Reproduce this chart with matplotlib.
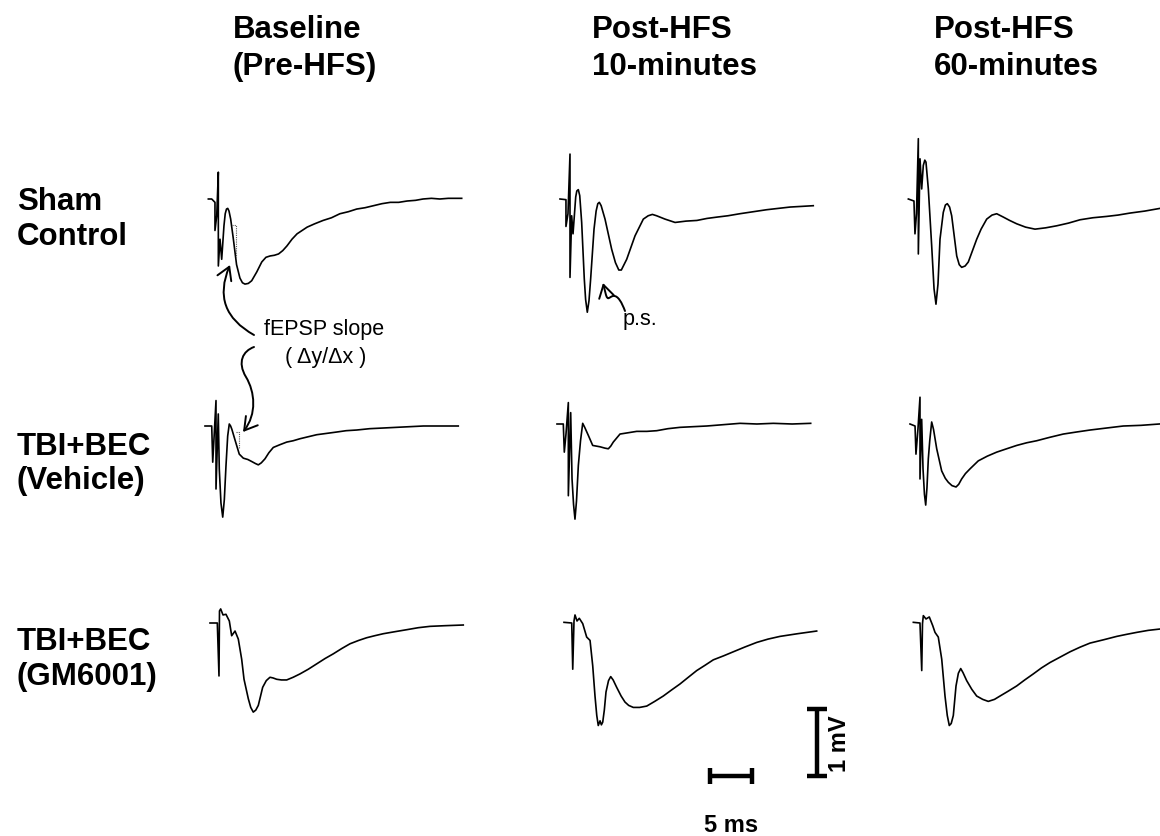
import numpy as np
import matplotlib.pyplot as plt
from matplotlib.path import Path
from matplotlib.patches import FancyArrowPatch

plt.rcParams['font.family'] = ['Liberation Sans', 'DejaVu Sans']

# trace samples: time (ms) after sweep start, amplitude (mV) re. baseline
sham_base_t = [0.04, 0.44, 0.83, 0.83, 1.04, 1.23, 1.23, 1.43, 1.63, 1.90, 2.05, 2.20, 2.35, 2.50,
               2.70, 3.00, 3.40, 3.80, 4.10, 4.40, 4.80, 5.20, 5.80, 6.40, 6.90, 7.40, 7.90, 8.40,
               8.90, 9.40, 10.00, 10.60, 11.20, 11.80, 12.70, 13.70, 14.70, 15.70, 16.70, 17.70,
               18.70, 19.70, 20.70, 21.70, 22.70, 23.70, 24.70, 25.60, 26.60, 27.60, 28.60, 30.20]
sham_base_v = [0.0, 0.0, -0.05, -0.47, -0.25, 0.40, -1.00, -0.60, -0.90, -0.40, -0.22, -0.15,
               -0.14, -0.18, -0.30, -0.58, -0.98, -1.18, -1.25, -1.27, -1.26, -1.22, -1.09, -0.94,
               -0.87, -0.85, -0.84, -0.82, -0.77, -0.70, -0.60, -0.52, -0.47, -0.42, -0.37, -0.32,
               -0.28, -0.22, -0.19, -0.15, -0.13, -0.10, -0.07, -0.05, -0.05, -0.03, -0.02, 0.0,
               0.01, 0.0, 0.01, 0.01]

sham_10_t = [0.0, 0.71, 0.71, 0.95, 1.19, 1.19, 1.39, 1.55, 1.87, 2.00, 2.18, 2.35, 2.58, 2.89,
             3.05, 3.25, 3.45, 3.65, 4.05, 4.30, 4.50, 4.68, 4.90, 5.36, 6.15, 6.60, 7.00, 7.30,
             7.94, 8.93, 9.92, 10.50, 11.00, 11.50, 12.50, 13.70, 15.00, 16.30, 17.50, 18.70,
             20.00, 21.40, 23.00, 24.60, 26.00, 27.40, 28.80, 30.15]
sham_10_v = [0.0, -0.01, -0.41, -0.22, 0.67, -1.17, -0.25, -0.52, 0.03, 0.12, 0.14, 0.05, -0.35,
             -1.19, -1.50, -1.69, -1.52, -1.19, -0.45, -0.18, -0.07, -0.05, -0.10, -0.30, -0.75,
             -0.95, -1.06, -1.06, -0.90, -0.55, -0.30, -0.25, -0.23, -0.25, -0.30, -0.35, -0.33,
             -0.32, -0.29, -0.27, -0.25, -0.22, -0.19, -0.16, -0.14, -0.12, -0.11, -0.10]

sham_60_t = [0.04, 0.71, 0.83, 1.01, 1.23, 1.23, 1.43, 1.63, 1.82, 2.00, 2.14, 2.42, 2.82, 3.10,
             3.33, 3.57, 3.81, 4.20, 4.45, 4.68, 4.95, 5.20, 5.80, 6.10, 6.39, 6.80, 7.18, 8.18,
             8.70, 9.37, 10.00, 10.56, 11.35, 12.10, 12.94, 14.00, 15.12, 16.40, 17.70, 19.10,
             20.48, 22.00, 23.65, 25.00, 26.43, 28.20, 30.00]
sham_60_v = [0.0, -0.03, -0.52, -0.22, 0.90, -0.82, 0.60, 0.15, 0.50, 0.58, 0.55, 0.15, -0.70,
             -1.34, -1.57, -1.27, -0.60, -0.20, -0.09, -0.07, -0.12, -0.25, -0.85, -0.98, -1.02,
             -1.00, -0.94, -0.60, -0.45, -0.30, -0.24, -0.22, -0.27, -0.32, -0.37, -0.42, -0.45,
             -0.43, -0.40, -0.36, -0.31, -0.28, -0.26, -0.24, -0.21, -0.18, -0.14]

veh_base_t = [0.0, 0.80, 0.92, 1.07, 1.31, 1.31, 1.58, 1.70, 1.90, 2.11, 2.30, 2.50, 2.70, 2.89,
              3.05, 3.20, 3.60, 4.08, 4.56, 5.10, 5.56, 6.00, 6.35, 6.70, 7.14, 7.60, 8.13, 8.90,
              9.73, 10.50, 11.31, 12.30, 13.30, 14.50, 15.68, 16.80, 18.06, 19.60, 21.23, 22.80,
              24.40, 26.00, 27.58, 30.15]
veh_base_v = [0.0, 0.0, -0.54, -0.19, 0.38, -0.94, 0.18, -0.64, -1.15, -1.36, -1.10, -0.59, -0.15,
              0.03, 0.0, -0.05, -0.22, -0.42, -0.48, -0.50, -0.53, -0.56, -0.58, -0.55, -0.49,
              -0.40, -0.32, -0.28, -0.24, -0.22, -0.19, -0.16, -0.13, -0.11, -0.09, -0.07, -0.06,
              -0.04, -0.03, -0.02, -0.01, 0.0, 0.0, 0.0]

veh_10_t = [0.0, 0.75, 0.87, 1.07, 1.35, 1.35, 1.63, 1.79, 1.97, 2.14, 2.32, 2.54, 2.80, 3.06,
            3.30, 3.73, 4.25, 5.12, 5.70, 6.11, 6.40, 6.70, 7.50, 8.50, 9.49, 10.70, 11.87, 13.20,
            14.64, 16.20, 17.82, 19.80, 21.79, 23.80, 25.75, 28.00, 30.20]
veh_10_v = [0.0, 0.0, -0.42, -0.15, 0.32, -1.07, 0.17, -0.82, -1.20, -1.42, -1.15, -0.62, -0.25,
            0.01, -0.05, -0.17, -0.32, -0.34, -0.36, -0.37, -0.33, -0.27, -0.15, -0.13, -0.11,
            -0.11, -0.10, -0.07, -0.05, -0.04, -0.03, -0.01, 0.01, 0.0, 0.01, 0.0, 0.01]

veh_60_t = [0.0, 0.60, 0.71, 0.95, 1.19, 1.19, 1.39, 1.55, 1.72, 1.87, 2.02, 2.18, 2.35, 2.58,
            2.80, 3.18, 3.77, 4.20, 4.56, 5.00, 5.48, 5.80, 6.15, 6.60, 7.14, 8.13, 9.20, 10.32,
            11.50, 12.70, 13.90, 15.08, 16.60, 18.25, 19.80, 21.43, 23.40, 25.39, 27.50, 29.68]
veh_60_v = [0.0, -0.03, -0.45, -0.07, 0.40, -0.82, 0.07, -0.67, -1.05, -1.21, -0.95, -0.52, -0.25,
            0.03, -0.08, -0.37, -0.70, -0.81, -0.87, -0.92, -0.94, -0.90, -0.82, -0.74, -0.67,
            -0.55, -0.48, -0.42, -0.37, -0.32, -0.28, -0.25, -0.20, -0.15, -0.12, -0.09, -0.06,
            -0.03, -0.02, 0.0]

gm_base_t = [0.0, 0.87, 1.07, 1.13, 1.27, 1.55, 1.90, 2.30, 2.58, 2.98, 3.37, 3.77, 4.05, 4.56,
             4.85, 5.15, 5.45, 5.75, 6.00, 6.27, 6.70, 7.14, 7.50, 7.94, 8.50, 9.13, 9.90, 10.71,
             11.70, 12.70, 13.70, 14.68, 15.70, 16.67, 17.70, 18.65, 19.60, 20.63, 22.00, 23.42,
             24.80, 26.19, 28.00, 30.15]
gm_base_v = [0.0, 0.0, -0.79, 0.18, 0.21, 0.12, 0.13, 0.03, -0.19, -0.12, -0.24, -0.54, -0.84,
             -1.13, -1.26, -1.33, -1.30, -1.23, -1.10, -0.96, -0.86, -0.81, -0.82, -0.84, -0.85,
             -0.85, -0.81, -0.76, -0.69, -0.61, -0.53, -0.46, -0.38, -0.31, -0.26, -0.22, -0.19,
             -0.16, -0.13, -0.10, -0.07, -0.05, -0.04, -0.03]

gm_10_t = [0.0, 0.92, 1.04, 1.19, 1.31, 1.55, 1.82, 2.23, 2.70, 3.10, 3.42, 3.69, 3.90, 4.08,
           4.29, 4.45, 4.61, 4.80, 5.00, 5.30, 5.56, 5.85, 6.27, 6.80, 7.26, 7.70, 8.25, 9.00,
           9.85, 10.80, 11.82, 12.80, 13.81, 14.80, 15.80, 16.80, 17.77, 19.00, 20.15, 21.50,
           22.94, 24.30, 25.71, 27.80, 30.08]
gm_10_v = [0.01, 0.0, -0.69, 0.03, 0.12, 0.03, 0.07, -0.01, -0.21, -0.26, -0.64, -1.09, -1.38,
           -1.53, -1.46, -1.52, -1.48, -1.30, -1.03, -0.86, -0.80, -0.85, -0.96, -1.09, -1.18,
           -1.23, -1.26, -1.26, -1.24, -1.17, -1.09, -1.00, -0.91, -0.81, -0.71, -0.63, -0.55,
           -0.49, -0.43, -0.36, -0.29, -0.24, -0.20, -0.16, -0.12]

gm_60_t = [0.04, 0.83, 1.04, 1.13, 1.23, 1.55, 1.94, 2.35, 2.62, 3.01, 3.42, 3.81, 4.08, 4.32,
           4.55, 4.80, 5.12, 5.40, 5.68, 5.95, 6.39, 7.00, 7.58, 8.30, 8.96, 9.70, 10.36, 11.30,
           12.34, 13.30, 14.32, 15.30, 16.31, 17.50, 18.69, 19.90, 21.07, 22.70, 24.25, 25.40,
           26.63, 28.00, 29.40]
gm_60_v = [0.01, 0.0, -0.71, -0.01, 0.11, 0.06, 0.09, -0.04, -0.14, -0.21, -0.54, -1.09, -1.38,
           -1.53, -1.50, -1.38, -0.94, -0.75, -0.68, -0.74, -0.86, -0.99, -1.09, -1.14, -1.17,
           -1.14, -1.09, -1.02, -0.94, -0.85, -0.76, -0.67, -0.59, -0.51, -0.43, -0.36, -0.30,
           -0.25, -0.20, -0.17, -0.14, -0.11, -0.09]

col_titles = [('Baseline', '(Pre-HFS)'), ('Post-HFS', '10-minutes'), ('Post-HFS', '60-minutes')]
row_titles = [('Sham', 'Control'), ('TBI+BEC', '(Vehicle)'), ('TBI+BEC', '(GM6001)')]

# fEPSP slope guides (dotted) on the baseline traces
slope_sham_t = [2.9, 3.3, 3.3]
slope_sham_v = [-0.39, -0.39, -0.87]
slope_veh_t = [3.73, 4.05, 4.05]
slope_veh_v = [-0.09, -0.09, -0.34]

scale_ms = 5
scale_mv = 1

traces = [
    [(sham_base_t, sham_base_v), (sham_10_t, sham_10_v), (sham_60_t, sham_60_v)],
    [(veh_base_t, veh_base_v), (veh_10_t, veh_10_v), (veh_60_t, veh_60_v)],
    [(gm_base_t, gm_base_v), (gm_10_t, gm_10_v), (gm_60_t, gm_60_v)],
]

# page layout, in pixels of the saved image
W, H = 1160, 837
PX_MS = 8.4    # pixels per ms
PX_MV = 67.0   # pixels per mV
origins = [
    [(208, 200), (560, 200), (908, 200)],
    [(205, 427), (557, 425), (910, 425)],
    [(210, 624), (564, 624), (913, 624)],
]


def X(px):
    return px / PX_MS


def Y(py):
    return -py / PX_MV


fig = plt.figure(figsize=(W / 100, H / 100), dpi=100)
ax = fig.add_axes([0, 0, 1, 1])
ax.set_xlim(0, X(W))
ax.set_ylim(Y(H), 0)
ax.axis('off')

for r in range(3):
    for c in range(3):
        t, v = traces[r][c]
        ox, oy = origins[r][c]
        ax.plot(np.array(t) + X(ox), np.array(v) + Y(oy), color='black', lw=1.2,
                solid_joinstyle='round')

for (st, sv), (ox, oy) in [((slope_sham_t, slope_sham_v), origins[0][0]),
                           ((slope_veh_t, slope_veh_v), origins[1][0])]:
    ax.plot(np.array(st) + X(ox), np.array(sv) + Y(oy), color='0.35', lw=0.8, ls=(0, (1, 1)))

# column and row headings
head_fs = 22.5
for (l1, l2), x0 in zip(col_titles, [233, 592, 934]):
    ax.text(X(x0), Y(38), l1, fontsize=head_fs, fontweight='bold', va='baseline')
    ax.text(X(x0), Y(75), l2, fontsize=head_fs, fontweight='bold', va='baseline')
for (l1, l2), (y1, y2) in zip(row_titles, [(210, 245), (455, 489), (650, 685)]):
    ax.text(X(17), Y(y1), l1, fontsize=head_fs, fontweight='bold', va='baseline')
    ax.text(X(17), Y(y2), l2, fontsize=head_fs, fontweight='bold', va='baseline')

# annotations
ax.text(X(264), Y(335), 'fEPSP slope', fontsize=15.5, va='baseline')
ax.text(X(326), Y(363), '( \u0394y/\u0394x )', fontsize=15.5, va='baseline', ha='center')
ax.text(X(623), Y(325), 'p.s.', fontsize=15.5, va='baseline')

arrow_kw = dict(arrowstyle='->,head_length=0.5,head_width=0.3', color='black', lw=1.4,
                mutation_scale=18)
ax.annotate('', xy=(X(230), Y(266)), xytext=(X(254), Y(336)),
            arrowprops=dict(connectionstyle='arc3,rad=-0.45', shrinkA=0, shrinkB=0, **arrow_kw))

s_path = Path([(X(254), Y(348)), (X(243), Y(352)), (X(237), Y(363)), (X(246), Y(378)),
               (X(255), Y(393)), (X(257), Y(415)), (X(243), Y(433))],
              [Path.MOVETO] + [Path.CURVE4] * 6)
ax.add_patch(FancyArrowPatch(path=s_path, **arrow_kw))

ps_path = Path([(X(625), Y(312)), (X(622), Y(304)), (X(618), Y(296)), (X(613), Y(297)),
                (X(609), Y(298)), (X(608), Y(302)), (X(606), Y(296)),
                (X(605), Y(292)), (X(604), Y(288)), (X(603), Y(284))],
               [Path.MOVETO] + [Path.CURVE4] * 9)
ax.add_patch(FancyArrowPatch(path=ps_path, **arrow_kw))

# scale bars
bx, by = X(710), Y(777)
ax.plot([bx, bx + scale_ms], [by, by], color='black', lw=3.2, solid_capstyle='butt')
for xe in (bx, bx + scale_ms):
    ax.plot([xe, xe], [by - 0.12, by + 0.12], color='black', lw=3.2, solid_capstyle='butt')
ax.text(bx + scale_ms / 2, Y(832), '5 ms', fontsize=17, fontweight='bold', ha='center',
        va='baseline')

vx, vy = X(817), Y(777)
ax.plot([vx, vx], [vy, vy + scale_mv], color='black', lw=3.2, solid_capstyle='butt')
for ye in (vy, vy + scale_mv):
    ax.plot([vx - 1.2, vx + 1.2], [ye, ye], color='black', lw=3.2, solid_capstyle='butt')
ax.text(X(840), vy + scale_mv / 2, '1 mV', fontsize=17, fontweight='bold', rotation=90,
        ha='center', va='center')

fig.savefig('out.png', dpi=100, facecolor='white')
